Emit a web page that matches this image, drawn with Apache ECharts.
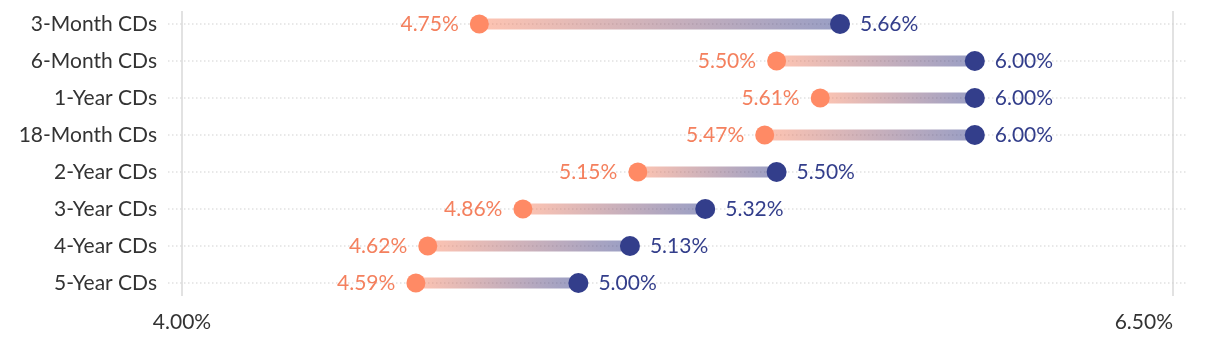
<!DOCTYPE html>
<html>
<head>
<meta charset="utf-8">
<script src="https://cdn.jsdelivr.net/npm/echarts@6/dist/echarts.min.js"></script>
<style>
  html, body { margin: 0; padding: 0; background: #fff; }
  #chart { width: 1220px; height: 346px; }
</style>
</head>
<body>
<div id="chart"></div>
<script>
// CD rate ranges: lowest and highest APY per term
const categories = ['3-Month CDs', '6-Month CDs', '1-Year CDs', '18-Month CDs', '2-Year CDs', '3-Year CDs', '4-Year CDs', '5-Year CDs'];
const lowRates  = [4.75, 5.50, 5.61, 5.47, 5.15, 4.86, 4.62, 4.59];
const highRates = [5.66, 6.00, 6.00, 6.00, 5.50, 5.32, 5.13, 5.00];
const xTicks = [4.00, 6.50];

const ORANGE = '#ff8a65';
const BLUE = '#333e8b';
const FONT = 'Lato';

const fmt = v => v.toFixed(2) + '%';

const chart = echarts.init(document.getElementById('chart'));

const option = {
  animation: false,
  textStyle: { fontFamily: FONT },
  grid: { left: 182, right: 47, top: 5.5, bottom: 44.5, outerBoundsMode: 'none' },
  xAxis: {
    type: 'value',
    min: xTicks[0],
    max: xTicks[1],
    interval: xTicks[1] - xTicks[0],
    axisLine: { show: false },
    axisTick: { show: false },
    splitLine: { show: false },
    axisLabel: {
      formatter: fmt,
      color: '#333',
      fontSize: 21,
      fontFamily: FONT,
      margin: 10,
      alignMaxLabel: 'right'
    }
  },
  yAxis: {
    type: 'category',
    inverse: true,
    data: categories,
    axisLine: { show: false },
    axisTick: { show: false },
    splitLine: { show: false },
    axisLabel: { color: '#333', fontSize: 21, fontFamily: FONT, margin: 25 }
  },
  series: [
    {
      // light vertical reference lines at the outer ticks
      type: 'custom',
      silent: true,
      z: 1,
      data: xTicks.map(v => [v]),
      renderItem: (params, api) => {
        const top = api.coord([api.value(0), 0]);
        const bot = api.coord([api.value(0), categories.length - 1]);
        return {
          type: 'line',
          shape: { x1: top[0], y1: top[1] - 13, x2: bot[0], y2: bot[1] + 13 },
          style: { stroke: '#e2e2e2', lineWidth: 2 }
        };
      }
    },
    {
      // dotted row guides
      type: 'custom',
      silent: true,
      z: 2,
      data: categories.map((c, i) => [i]),
      renderItem: (params, api) => {
        const a = api.coord([xTicks[0], api.value(0)]);
        const b = api.coord([xTicks[1], api.value(0)]);
        return {
          type: 'line',
          shape: { x1: a[0] - 14, y1: a[1], x2: b[0] + 13, y2: b[1] },
          style: { stroke: '#d2d2d2', lineWidth: 1.2, lineDash: [1.5, 2.5] }
        };
      }
    },
    {
      // gradient connector between low and high rate
      type: 'custom',
      silent: true,
      z: 3,
      data: categories.map((c, i) => [i, lowRates[i], highRates[i]]),
      renderItem: (params, api) => {
        const i = api.value(0);
        const a = api.coord([api.value(1), i]);
        const b = api.coord([api.value(2), i]);
        const h = 11;
        return {
          type: 'rect',
          shape: { x: a[0], y: a[1] - h / 2, width: b[0] - a[0], height: h },
          style: {
            fill: new echarts.graphic.LinearGradient(0, 0, 1, 0, [
              { offset: 0, color: ORANGE },
              { offset: 1, color: BLUE }
            ]),
            opacity: 0.5
          }
        };
      }
    },
    {
      name: 'Low',
      type: 'scatter',
      z: 4,
      symbolSize: 19,
      itemStyle: { color: ORANGE, opacity: 1 },
      data: lowRates.map((v, i) => [v, i]),
      label: {
        show: true,
        position: 'left',
        distance: 11,
        formatter: p => fmt(p.value[0]),
        color: '#f4805e',
        fontSize: 21,
        fontFamily: FONT
      }
    },
    {
      name: 'High',
      type: 'scatter',
      z: 4,
      symbolSize: 20,
      itemStyle: { color: BLUE, opacity: 1 },
      data: highRates.map((v, i) => [v, i]),
      label: {
        show: true,
        position: 'right',
        distance: 10,
        formatter: p => fmt(p.value[0]),
        color: BLUE,
        fontSize: 21,
        fontFamily: FONT
      }
    }
  ]
};

chart.setOption(option);
</script>
</body>
</html>
